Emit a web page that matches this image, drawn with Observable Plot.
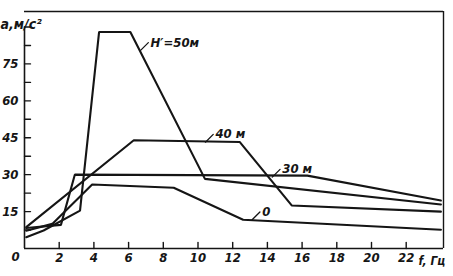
<!DOCTYPE html>
<html><head><meta charset="utf-8">
<script src="https://cdn.jsdelivr.net/npm/d3@7"></script>
<script src="https://cdn.jsdelivr.net/npm/@observablehq/plot@0.6"></script>
<style>
body{margin:0;background:#fff;}
svg{font-family:"DejaVu Sans Condensed","Liberation Sans Narrow","DejaVu Sans",sans-serif;font-style:italic;}
</style></head><body><div id="chart"></div>
<script>
// frequency (Гц) and acceleration (м/с²) for each depth curve
const f50 = [0.1, 1.1, 3.2, 4.3, 6.1, 10.4, 24];
const a50 = [4.6, 7.3, 15.4, 88, 88, 28.3, 17.9];
const f40 = [0.1, 6.3, 12.4, 15.4, 24];
const a40 = [8.7, 44, 43.3, 17.5, 15.0];
const f30 = [0.1, 2.1, 2.9, 16.3, 24];
const a30 = [8.3, 9.6, 30, 29.6, 19.5];
const f0 = [0.1, 1.6, 3.9, 8.6, 12.6, 24];
const a0 = [7.2, 10.0, 26, 24.7, 11.7, 7.6];

const seriesNames = ["H′=50м", "40 м", "30 м", "0"];
// point on curve where each label's leader line starts
const labelF = [6.69, 10.43, 14.28, 13.12];
const labelA = [80.5, 43.2, 29.0, 11.7];

const xTicks = [2, 4, 6, 8, 10, 12, 14, 16, 18, 20, 22];
const xTickLabels = [2, 4, 6, 8, 10, 12, 14, 16, 18, 20, 22];
const originLabel = [0];
const yTicks = [7.5, 15, 22.5, 30, 37.5, 45, 52.5, 60, 67.5, 75, 82.5, 90];
const yTickLabels = [15, 30, 45, 60, 75];
const xMax = 24.15, yMax = 96.3, yAxisTop = 90;

const curves = [[f50, a50], [f40, a40], [f30, a30], [f0, a0]];
const rows = curves.flatMap(([f, a], i) => f.map((v, j) => ({series: seriesNames[i], f: v, a: a[j]})));
const labels = seriesNames.map((s, i) => ({s, f: labelF[i], a: labelA[i]}));
const tickShape = {draw(ctx, l) { ctx.moveTo(0, 0); ctx.lineTo(0, -l); }};
const ink = "#151515";

const chart = Plot.plot({
  width: 453, height: 276,
  marginLeft: 24, marginRight: 10, marginTop: 11, marginBottom: 28,
  x: {domain: [0, xMax], axis: null},
  y: {domain: [0, yMax], axis: null},
  style: {fontSize: "13px", fontStyle: "italic"},
  marks: [
    Plot.ruleY([0], {x1: 0, x2: xMax, stroke: ink, strokeWidth: 1.6}),
    Plot.ruleY([yMax], {x1: 0, x2: xMax, stroke: ink, strokeWidth: 1.4}),
    Plot.ruleX([0], {y1: 0, y2: yAxisTop, stroke: ink, strokeWidth: 1.6}),
    Plot.ruleX([xMax], {y1: 0, y2: yMax, stroke: ink, strokeWidth: 1.4}),
    Plot.vector(yTicks, {y: d => d, frameAnchor: "left", rotate: 90, length: 6, anchor: "start", shape: tickShape, stroke: ink, strokeWidth: 1.4}),
    Plot.vector(xTicks, {x: d => d, frameAnchor: "bottom", rotate: 0, length: 6, anchor: "start", shape: tickShape, stroke: ink, strokeWidth: 1.4}),
    Plot.text(yTickLabels, {y: d => d, text: d => String(d), frameAnchor: "left", dx: -6, textAnchor: "end", fill: ink, fontWeight: "bold"}),
    Plot.text(xTickLabels, {x: d => d, text: d => String(d), frameAnchor: "bottom", dy: 13, fill: ink, fontWeight: "bold"}),
    Plot.text(originLabel, {x: d => d, text: d => String(d), frameAnchor: "bottom", dy: 12, dx: -9, fill: ink, fontWeight: "bold"}),
    Plot.text(["a,м/с²"], {text: d => d, frameAnchor: "top-left", dx: -24, dy: 8, textAnchor: "start", fill: ink, fontWeight: "bold", fontSize: 14}),
    Plot.text(["f, Гц"], {text: d => d, frameAnchor: "bottom-right", dx: -25, dy: 16, textAnchor: "start", fill: ink, fontWeight: "bold", fontSize: 12}),
    Plot.line(rows, {x: "f", y: "a", z: "series", stroke: ink, strokeWidth: 2.1, strokeLinejoin: "miter"}),
    Plot.vector(labels, {x: "f", y: "a", rotate: 45, length: 11, anchor: "start", shape: tickShape, stroke: ink, strokeWidth: 1.3}),
    Plot.text(labels, {x: "f", y: "a", text: "s", dx: 10, dy: -8, textAnchor: "start", fill: ink, fontWeight: "bold"})
  ]
});
document.getElementById("chart").append(chart);
</script></body></html>
